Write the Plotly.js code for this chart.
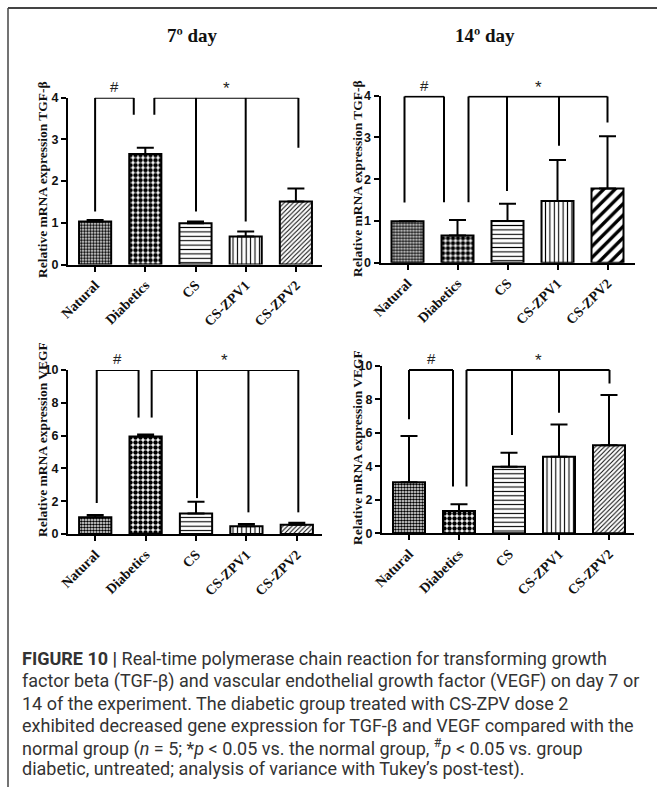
<!DOCTYPE html>
<html>
<head>
<meta charset="utf-8">
<script src="https://cdn.plot.ly/plotly-3.0.1.min.js"></script>
<style>html,body{margin:0;padding:0;background:#fff;}#chart{width:657px;height:787px;}</style>
</head>
<body>
<div id="chart"></div>
<script>
// ---- data ----
const categories = ['Natural', 'Diabetics', 'CS', 'CS-ZPV1', 'CS-ZPV2'];

const tgfDay7Mean  = [1.03, 2.65, 0.99, 0.67, 1.51];
const tgfDay7Err   = [0.04, 0.15, 0.04, 0.12, 0.31];
const tgfDay14Mean = [0.99, 0.65, 1.00, 1.48, 1.78];
const tgfDay14Err  = [0.00, 0.37, 0.41, 0.98, 1.25];
const vegfDay7Mean  = [1.02, 5.95, 1.25, 0.47, 0.57];
const vegfDay7Err   = [0.14, 0.12, 0.72, 0.14, 0.12];
const vegfDay14Mean = [3.05, 1.33, 3.98, 4.57, 5.26];
const vegfDay14Err  = [2.77, 0.40, 0.84, 1.94, 3.01];

const panelTitles = ['7º day', '14º day'];
const yTitles = ['Relative mRNA expression TGF-β', 'Relative mRNA expression VEGF'];

// significance brackets: leg positions (category index) and lower ends of legs
const tgf7Hash  = {x: [0.0, 0.77],  low: [1.27, 3.59], top: 4};
const tgf7Star  = {x: [1.18, 2.01, 3.0, 4.05], low: [3.59, 1.27, 1.03, 2.8], top: 4};
const tgf14Hash = {x: [-0.06, 0.73], low: [1.44, 1.45], top: 3.98};
const tgf14Star = {x: [1.22, 1.99, 3.03, 4.0], low: [1.45, 1.72, 2.8, 3.36], top: 3.98};
const vegf7Hash = {x: [0.03, 0.86], low: [1.89, 7.1], top: 10};
const vegf7Star = {x: [1.12, 2.02, 3.04, 4.03], low: [7.1, 2.19, 1.32, 1.32], top: 10};
const vegf14Hash = {x: [0.0, 0.88], low: [6.81, 2.79], top: 9.76};
const vegf14Star = {x: [1.15, 2.06, 3.0, 4.01], low: [2.79, 5.88, 7.21, 8.96], top: 9.76};

const captionLines = [
  '<b>FIGURE 10 |</b> Real-time polymerase chain reaction for transforming growth',
  'factor beta (TGF-β) and vascular endothelial growth factor (VEGF) on day 7 or',
  '14 of the experiment. The diabetic group treated with CS-ZPV dose 2',
  'exhibited decreased gene expression for TGF-β and VEGF compared with the',
  'normal group (<i>n</i> = 5; *<i>p</i> &lt; 0.05 vs. the normal group, <sup>#</sup><i>p</i> &lt; 0.05 vs. group',
  'diabetic, untreated; analysis of variance with Tukey’s post-test).'
];

// ---- layout helpers ----
const W = 657, H = 787;
const px = v => v / W;
const py = v => 1 - v / H;

const patFine = {
  shape: ['.', '.', '-', '|', '/'],
  size: [3, 5, 4.4, 4.4, 3.2],
  solidity: [0.6, 0.62, 0.25, 0.25, 0.3]
};
const patThick = {
  shape: ['.', '.', '-', '|', '/'],
  size: [3, 5, 4.4, 4.4, 8],
  solidity: [0.6, 0.62, 0.25, 0.25, 0.42]
};

const panels = [
  {mean: tgfDay7Mean, err: tgfDay7Err, hash: tgf7Hash, star: tgf7Star, pat: patFine,
   xd: [68, 322], yd: [97.7, 264.5], yr: [0, 4], dtick: 1, xr: [-0.54, 4.52],
   ytitle: yTitles[0], yt: [43, 180]},
  {mean: tgfDay14Mean, err: tgfDay14Err, hash: tgf14Hash, star: tgf14Star, pat: patThick,
   xd: [380.5, 635], yd: [95.7, 262.7], yr: [0, 4], dtick: 1, xr: [-0.54, 4.55],
   ytitle: yTitles[0], yt: [357, 179]},
  {mean: vegfDay7Mean, err: vegfDay7Err, hash: vegf7Hash, star: vegf7Star, pat: patFine,
   xd: [68, 322], yd: [370, 534], yr: [0, 10], dtick: 2, xr: [-0.54, 4.5],
   ytitle: yTitles[1], yt: [42, 440]},
  {mean: vegfDay14Mean, err: vegfDay14Err, hash: vegf14Hash, star: vegf14Star, pat: patFine,
   xd: [382, 634], yd: [366, 533.3], yr: [0, 10], dtick: 2, xr: [-0.54, 4.5],
   ytitle: yTitles[1], yt: [357, 448]}
];

const data = [];
const shapes = [];
const annotations = [];
const layout = {
  width: W, height: H,
  margin: {l: 0, r: 0, t: 0, b: 0},
  paper_bgcolor: '#fff', plot_bgcolor: 'rgba(0,0,0,0)',
  showlegend: false,
  shapes: shapes, annotations: annotations
};

const serif = 'Liberation Serif, Times New Roman, serif';
const sans = 'Liberation Sans, Arial, sans-serif';

panels.forEach((p, i) => {
  const sfx = i === 0 ? '' : String(i + 1);
  const xa = 'x' + sfx, ya = 'y' + sfx;
  data.push({
    type: 'bar', x: categories, y: p.mean, xaxis: xa, yaxis: ya,
    width: 0.64,
    marker: {
      color: 'white',
      line: {color: 'black', width: 2},
      pattern: {shape: p.pat.shape, size: p.pat.size, solidity: p.pat.solidity,
                fgcolor: 'black', bgcolor: 'white', fillmode: 'replace'}
    },
    error_y: {type: 'data', symmetric: false, array: p.err, arrayminus: p.err.map(() => 0),
              color: 'black', thickness: 2, width: 8.5},
    hoverinfo: 'skip'
  });
  layout['xaxis' + sfx] = {
    domain: [px(p.xd[0]), px(p.xd[1])], anchor: ya, type: 'category',
    range: p.xr, showline: true, linecolor: 'black', linewidth: 2,
    ticks: 'outside', ticklen: 5, tickwidth: 2, tickcolor: 'black',
    tickangle: -45, tickfont: {family: serif, size: 14, weight: 'bold', color: '#111'},
    showgrid: false, zeroline: false, fixedrange: true
  };
  layout['yaxis' + sfx] = {
    domain: [py(p.yd[1]), py(p.yd[0])], anchor: xa,
    range: p.yr, dtick: p.dtick, showline: true, linecolor: 'black', linewidth: 2,
    ticks: 'outside', ticklen: 5, tickwidth: 2, tickcolor: 'black',
    tickfont: {family: sans, size: 12.5, weight: 'bold', color: '#111'},
    showgrid: false, zeroline: false, fixedrange: true
  };
  // y-axis title as rotated annotation
  annotations.push({
    xref: 'paper', yref: 'paper', x: px(p.yt[0]), y: py(p.yt[1]),
    xanchor: 'center', yanchor: 'middle', textangle: -90, showarrow: false,
    text: p.ytitle, font: {family: serif, size: 13.5, weight: 'bold', color: '#111'}
  });
  // brackets
  [[p.hash, '#'], [p.star, '*']].forEach(([b, sym]) => {
    const xs = b.x;
    shapes.push({type: 'line', xref: xa, yref: ya, x0: xs[0], x1: xs[xs.length - 1],
                 y0: b.top, y1: b.top, line: {color: 'black', width: 2}});
    xs.forEach((xv, k) => {
      shapes.push({type: 'line', xref: xa, yref: ya, x0: xv, x1: xv,
                   y0: b.top, y1: b.low[k], line: {color: 'black', width: 2}});
    });
    annotations.push({
      xref: xa, yref: ya, x: (xs[0] + xs[xs.length - 1]) / 2, y: b.top,
      xanchor: 'center', yanchor: 'bottom', yshift: sym === '#' ? 1 : -2, showarrow: false,
      text: sym, font: {family: sans, size: sym === '#' ? 15 : 17, color: '#222'}
    });
  });
});

// panel titles
[[192, 35], [485, 35]].forEach((pos, i) => {
  annotations.push({
    xref: 'paper', yref: 'paper', x: px(pos[0]), y: py(pos[1]),
    xanchor: 'center', yanchor: 'middle', showarrow: false,
    text: panelTitles[i], font: {family: serif, size: 19, weight: 'bold', color: '#111'}
  });
});

// caption
const capY = [658, 681, 703, 725, 747, 769];
captionLines.forEach((t, i) => {
  annotations.push({
    xref: 'paper', yref: 'paper', x: px(20), y: py(capY[i]),
    xanchor: 'left', yanchor: 'middle', showarrow: false, align: 'left',
    text: t, font: {family: 'Roboto, Liberation Sans, sans-serif', size: 18, color: '#333'}
  });
});

// figure frame (top and left edges)
shapes.push({type: 'line', xref: 'paper', yref: 'paper', x0: px(8), x1: 1, y0: py(8), y1: py(8),
             line: {color: '#444', width: 2}});
shapes.push({type: 'line', xref: 'paper', yref: 'paper', x0: px(8), x1: px(8), y0: py(8), y1: 0,
             line: {color: '#444', width: 1.5}});

Plotly.newPlot('chart', data, layout, {staticPlot: true, displayModeBar: false});
</script>
</body>
</html>
